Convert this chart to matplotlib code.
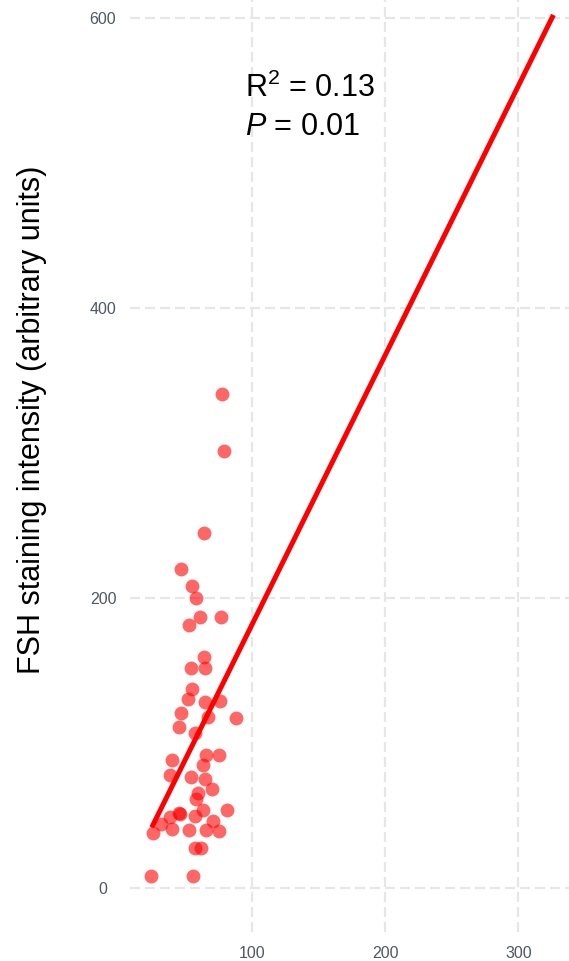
import matplotlib
matplotlib.use("Agg")
import matplotlib.pyplot as plt

plt.rcParams['font.family'] = ['Liberation Sans', 'DejaVu Sans']
plt.rcParams['mathtext.fontset'] = 'custom'
plt.rcParams['mathtext.rm'] = 'Liberation Sans'
plt.rcParams['mathtext.it'] = 'Liberation Sans:italic'

# Data
x_vals = [77.9, 79.2, 64.2, 47.0, 55.0, 58.0, 61.2, 77.0, 53.0, 64.3,
          54.2, 65.2, 55.3, 52.1, 65.2, 76.2, 47.2, 67.2, 88.1, 45.3,
          57.1, 66.0, 75.2, 40.2, 63.2, 38.9, 54.2, 65.2, 70.5, 60.0,
          58.3, 63.5, 81.3, 45.2, 46.2, 38.5, 57.8, 71.0, 32.3, 40.3,
          53.2, 65.8, 75.6, 26.0, 57.6, 61.8, 24.5, 56.2]
y_vals = [340.9, 301.6, 244.8, 220.0, 208.7, 200.4, 187.3, 186.9, 181.6, 159.2,
          152.1, 151.7, 137.6, 130.3, 128.3, 129.2, 120.7, 118.5, 117.2, 111.6,
          106.9, 91.8, 91.7, 88.8, 84.8, 78.1, 77.0, 75.1, 68.5, 66.0,
          61.8, 54.3, 54.3, 52.1, 51.0, 49.0, 49.9, 46.4, 44.5, 41.2,
          40.0, 40.5, 39.6, 37.9, 28.0, 28.0, 8.5, 8.5]
fit_x = [25.0, 326.3]
fit_y = [42.0, 602.3]
x_ticks = [100, 200, 300]
y_ticks = [0, 200, 400, 600]
r2_label = r"R$^{2}$ = 0.13"
p_label = r"$P$ = 0.01"
y_label = "FSH staining intensity (arbitrary units)"

W, H = 569, 961
fig = plt.figure(figsize=(W / 100, H / 100), dpi=100)
left, right, top, bottom = 130, 569, 0, 932
ax = fig.add_axes([left / W, 1 - bottom / H, (right - left) / W, (bottom - top) / H])

ax.set_xlim(8.7, 338.0)
ax.set_ylim(-30.1, 612.6)

for s in ax.spines.values():
    s.set_visible(False)
ax.set_xticks(x_ticks)
ax.set_yticks(y_ticks)
ax.tick_params(length=0, labelsize=11.5, labelcolor='#4d5766')
ax.tick_params(axis='x', pad=10.0)
ax.tick_params(axis='y', pad=19.4)
for lab in ax.get_yticklabels():
    lab.set_horizontalalignment('center')
ax.grid(True, color='#e6e6e6', linewidth=1.6, linestyle=(0, (4.5, 2.25)))
ax.set_axisbelow(True)

ax.scatter(x_vals, y_vals, s=100, color='#ff0000', alpha=0.6, linewidths=0, zorder=2)
ax.plot(fit_x, fit_y, color='#ff0000', linewidth=3.6, solid_capstyle='butt', zorder=3)

ax.text(95.0, 546.0, r2_label, fontsize=22, ha='left', va='baseline', color='black')
ax.text(95.0, 519.8, p_label, fontsize=22, ha='left', va='baseline', color='black')

fig.text(32.5 / W, 1 - 420 / H, y_label, rotation=90, fontsize=22,
         ha='center', va='center', color='black')

fig.savefig("out.png", dpi=100)
